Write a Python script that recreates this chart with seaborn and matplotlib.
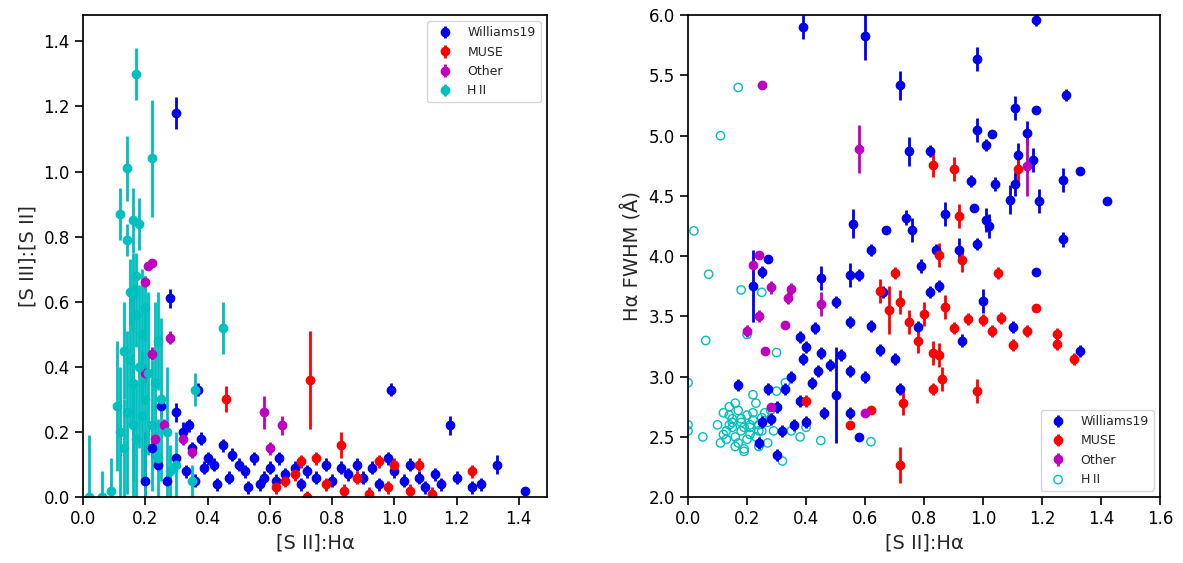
import numpy as np
import matplotlib
matplotlib.use("Agg")
import matplotlib.pyplot as plt
import seaborn as sns

# ---- left panel: [S III]:[S II] vs [S II]:Ha  (x, y, yerr) ----
L_WIL = [(0.30,1.18,0.05),(0.28,0.61,0.03),(0.37,0.33,0.02),(0.99,0.33,0.02),(1.18,0.22,0.03),
         (1.33,0.10,0.03),(1.42,0.02,0.01),(0.25,0.28,0.03),(0.30,0.26,0.03),(0.32,0.20,0.03),
         (0.35,0.15,0.02),(0.38,0.18,0.02),(0.40,0.12,0.02),(0.42,0.10,0.02),(0.45,0.16,0.02),
         (0.48,0.13,0.02),(0.50,0.10,0.02),(0.52,0.08,0.02),(0.55,0.12,0.02),(0.58,0.06,0.02),
         (0.60,0.09,0.02),(0.62,0.05,0.02),(0.65,0.07,0.02),(0.68,0.09,0.02),(0.70,0.04,0.02),
         (0.72,0.08,0.02),(0.75,0.06,0.02),(0.78,0.10,0.02),(0.80,0.05,0.02),(0.83,0.09,0.02),
         (0.85,0.07,0.02),(0.88,0.10,0.02),(0.90,0.06,0.02),(0.93,0.09,0.02),(0.95,0.04,0.02),
         (0.98,0.12,0.02),(1.00,0.08,0.02),(1.03,0.05,0.02),(1.05,0.10,0.02),(1.08,0.06,0.02),
         (1.10,0.03,0.02),(1.13,0.07,0.02),(1.15,0.04,0.02),(1.20,0.06,0.02),(1.25,0.03,0.02),
         (1.28,0.04,0.02),(0.22,0.15,0.03),(0.24,0.10,0.02),(0.27,0.05,0.02),(0.33,0.08,0.02),
         (0.36,0.05,0.02),(0.43,0.04,0.02),(0.47,0.06,0.02),(0.53,0.03,0.02),(0.20,0.05,0.15),
         (0.30,0.12,0.02),(0.34,0.22,0.02),(0.39,0.09,0.02),(0.57,0.04,0.02),(0.63,0.12,0.02)]
L_MUSE = [(0.73,0.36,0.15),(0.46,0.30,0.04),(0.83,0.16,0.04),(0.70,0.11,0.02),(0.75,0.12,0.02),
          (0.95,0.11,0.02),(1.00,0.10,0.02),(1.08,0.10,0.02),(1.25,0.08,0.02),(0.65,0.05,0.02),
          (0.78,0.04,0.02),(0.88,0.06,0.02),(0.72,0.00,0.02),(0.84,0.02,0.02),(0.92,0.01,0.02),
          (0.98,0.03,0.02),(1.05,0.02,0.02),(1.12,0.01,0.02),(0.62,0.03,0.02),(0.68,0.07,0.02)]
L_OTHER = [(0.22,0.72,0.01),(0.21,0.71,0.01),(0.20,0.66,0.02),(0.28,0.49,0.02),(0.22,0.44,0.02),
           (0.58,0.26,0.05),(0.64,0.22,0.03),(0.26,0.22,0.02),(0.23,0.18,0.02),(0.32,0.18,0.02),
           (0.60,0.15,0.02),(0.20,0.38,0.03),(0.35,0.14,0.02)]
L_HII = [(0.17,1.30,0.08),(0.22,1.04,0.18),(0.14,1.01,0.10),(0.12,0.87,0.08),(0.16,0.85,0.10),
         (0.18,0.84,0.08),(0.14,0.79,0.05),(0.17,0.68,0.07),(0.15,0.63,0.10),(0.16,0.63,0.12),
         (0.20,0.58,0.10),(0.45,0.52,0.08),(0.17,0.56,0.10),(0.19,0.50,0.20),(0.24,0.48,0.15),
         (0.13,0.45,0.15),(0.15,0.42,0.20),(0.18,0.40,0.25),(0.21,0.38,0.25),(0.16,0.35,0.30),
         (0.25,0.30,0.25),(0.11,0.28,0.20),(0.14,0.26,0.25),(0.19,0.25,0.20),(0.22,0.22,0.20),
         (0.27,0.20,0.20),(0.17,0.18,0.18),(0.13,0.15,0.15),(0.24,0.12,0.12),(0.30,0.10,0.10),
         (0.36,0.33,0.05),(0.02,0.00,0.19),(0.06,0.00,0.08),(0.09,0.02,0.10),(0.35,0.05,0.05),
         (0.28,0.08,0.08),(0.20,0.30,0.30),(0.16,0.22,0.22),(0.23,0.35,0.25),(0.12,0.20,0.20)]

# ---- right panel: Ha FWHM vs [S II]:Ha ----
R_WIL = [(0.39,5.90,0.10),(0.60,5.83,0.20),(1.18,5.96,0.05),(0.98,5.64,0.10),(0.72,5.42,0.12),
         (1.28,5.34,0.05),(1.11,5.23,0.10),(1.18,5.21,0.03),(1.15,5.02,0.10),(0.98,5.05,0.10),
         (1.03,5.01,0.03),(0.75,4.87,0.12),(0.82,4.87,0.05),(1.01,4.92,0.05),(1.12,4.84,0.10),
         (1.17,4.80,0.10),(0.96,4.62,0.05),(1.04,4.60,0.06),(1.11,4.60,0.10),(1.19,4.46,0.10),
         (1.27,4.63,0.10),(1.33,4.71,0.03),(1.42,4.46,0.02),(0.56,4.27,0.12),(0.74,4.32,0.06),
         (0.76,4.22,0.10),(0.67,4.22,0.03),(0.87,4.35,0.10),(0.97,4.40,0.03),(1.01,4.30,0.10),
         (1.02,4.25,0.10),(1.09,4.47,0.12),(1.27,4.14,0.06),(0.62,4.05,0.05),(0.79,3.92,0.06),
         (0.84,4.05,0.05),(0.92,4.05,0.10),(0.98,4.10,0.05),(1.18,3.87,0.02),(0.27,3.98,0.02),
         (0.25,3.87,0.05),(0.22,3.75,0.30),(0.45,3.82,0.10),(0.55,3.84,0.10),(0.58,3.84,0.05),
         (0.50,3.62,0.05),(0.66,3.70,0.05),(0.85,3.75,0.05),(0.82,3.70,0.05),(1.00,3.63,0.10),
         (0.55,3.45,0.05),(0.62,3.42,0.05),(0.78,3.41,0.05),(0.43,3.40,0.05),(0.38,3.33,0.05),
         (0.40,3.25,0.05),(0.45,3.20,0.05),(0.52,3.18,0.05),(0.48,3.10,0.05),(0.55,3.05,0.05),
         (0.60,3.00,0.05),(0.65,3.22,0.05),(0.70,3.15,0.05),(0.93,3.30,0.05),(1.10,3.41,0.05),
         (1.33,3.21,0.05),(0.35,3.00,0.05),(0.33,2.90,0.05),(0.38,2.80,0.05),(0.42,2.95,0.05),
         (0.46,2.70,0.05),(0.50,2.85,0.40),(0.58,2.50,0.03),(0.55,2.70,0.05),(0.72,2.90,0.05),
         (0.30,2.75,0.05),(0.28,2.65,0.05),(0.32,2.55,0.05),(0.25,2.62,0.05),(0.27,2.90,0.05),
         (0.36,2.60,0.05),(0.40,2.62,0.05),(0.30,2.35,0.05),(0.24,2.45,0.05),(0.17,2.93,0.05),
         (0.44,3.05,0.05),(0.39,3.15,0.05)]
R_MUSE = [(1.12,4.72,0.12),(0.83,4.76,0.10),(0.90,4.72,0.10),(0.92,4.33,0.10),(0.85,4.01,0.10),
          (0.93,3.97,0.10),(1.05,3.86,0.05),(0.70,3.86,0.05),(0.68,3.55,0.20),(0.72,3.62,0.10),
          (0.65,3.71,0.10),(0.75,3.45,0.10),(0.80,3.52,0.10),(0.87,3.58,0.10),(0.95,3.48,0.05),
          (1.00,3.47,0.05),(1.06,3.49,0.05),(1.18,3.57,0.02),(0.83,3.20,0.10),(0.85,3.18,0.10),
          (0.78,3.30,0.10),(0.90,3.40,0.05),(1.03,3.38,0.05),(1.10,3.26,0.05),(1.15,3.38,0.05),
          (1.25,3.35,0.05),(1.25,3.27,0.05),(1.31,3.15,0.05),(0.86,2.98,0.10),(0.83,2.90,0.05),
          (0.98,2.88,0.10),(0.73,2.78,0.10),(0.72,2.27,0.15),(0.62,2.72,0.03),(0.55,2.60,0.03),
          (0.40,2.80,0.05)]
R_OTHER = [(0.58,4.89,0.20),(0.25,5.42,0.02),(1.15,4.75,0.25),(0.24,4.01,0.02),(0.22,3.93,0.02),
           (0.28,3.74,0.05),(0.35,3.73,0.05),(0.34,3.65,0.05),(0.45,3.60,0.10),(0.24,3.50,0.05),
           (0.20,3.38,0.05),(0.26,3.21,0.03),(0.33,3.43,0.02),(0.28,2.75,0.03),(0.60,2.70,0.03)]
R_HII_X = [0.17,0.11,0.02,0.07,0.18,0.25,0.06,0.20,0.30,0.00,0.00,0.00,0.05,0.45,0.62,0.32,
           0.10,0.12,0.13,0.14,0.15,0.16,0.17,0.18,0.19,0.20,0.21,0.22,0.23,0.24,0.25,0.26,
           0.11,0.13,0.15,0.17,0.19,0.21,0.23,0.25,0.27,0.29,0.14,0.16,0.18,0.20,0.22,0.24,
           0.12,0.15,0.18,0.21,0.24,0.27,0.30,0.33,0.35,0.38,0.40,0.28,0.19,0.16,0.14,0.22]
R_HII_Y = [5.40,5.00,4.21,3.85,3.72,3.70,3.30,3.35,3.20,2.95,2.60,2.55,2.50,2.47,2.46,2.30,
           2.60,2.70,2.55,2.75,2.65,2.50,2.72,2.62,2.58,2.68,2.52,2.64,2.78,2.60,2.55,2.70,
           2.45,2.48,2.62,2.45,2.40,2.58,2.50,2.66,2.62,2.55,2.68,2.78,2.55,2.48,2.70,2.42,
           2.52,2.58,2.65,2.60,2.55,2.45,2.88,2.95,2.55,2.50,2.58,2.72,2.38,2.42,2.60,2.85]

sns.set_theme(style="ticks")
plt.rcParams["font.family"] = ["DejaVu Sans"]

fig = plt.figure(figsize=(11.83, 5.63), dpi=100)
ax1 = fig.add_axes([0.0702, 0.117, 0.392, 0.856])
ax2 = fig.add_axes([0.5816, 0.117, 0.399, 0.856])

def draw(ax, data, color, label):
    a = np.array(data)
    return ax.errorbar(a[:, 0], a[:, 1], yerr=a[:, 2], fmt="o", color=color, ms=6,
                       elinewidth=2, capsize=0, label=label)

draw(ax1, L_WIL, "#0000ee", "Williams19")
draw(ax1, L_MUSE, "#ff0000", "MUSE")
draw(ax1, L_OTHER, "#bf00bf", "Other")
draw(ax1, L_HII, "#00bfbf", "H\u2009II")
ax1.set_xlim(0, 1.49)
ax1.set_ylim(0, 1.48)
ax1.set_xticks(np.arange(0, 1.41, 0.2))
ax1.set_yticks(np.arange(0, 1.41, 0.2))
ax1.set_xlabel("[S II]:H\u03b1", fontsize=14)
ax1.set_ylabel("[S III]:[S II]", fontsize=14)
ax1.legend(loc="upper right", fontsize=9)

h1 = draw(ax2, R_WIL, "#0000ee", "Williams19")
h2 = draw(ax2, R_MUSE, "#ff0000", "MUSE")
h3 = draw(ax2, R_OTHER, "#bf00bf", "Other")
h4 = ax2.scatter(R_HII_X, R_HII_Y, s=36, facecolors="none", edgecolors="#00bfbf",
                 linewidths=1, label="H\u2009II")
ax2.set_xlim(0, 1.6)
ax2.set_ylim(2.0, 6.0)
ax2.set_xticks(np.arange(0, 1.61, 0.2))
ax2.set_xlabel("[S II]:H\u03b1", fontsize=14)
ax2.set_ylabel("H\u03b1 FWHM (\u00c5)", fontsize=14)
ax2.legend(handles=[h1, h2, h3, h4], loc="lower right", fontsize=9)

for ax in (ax1, ax2):
    ax.tick_params(labelsize=12, length=6, width=1.2, direction="out", colors="black")
    for s in ax.spines.values():
        s.set_visible(True)
        s.set_color("black")

plt.savefig("out.png", dpi=100)
plt.close()
